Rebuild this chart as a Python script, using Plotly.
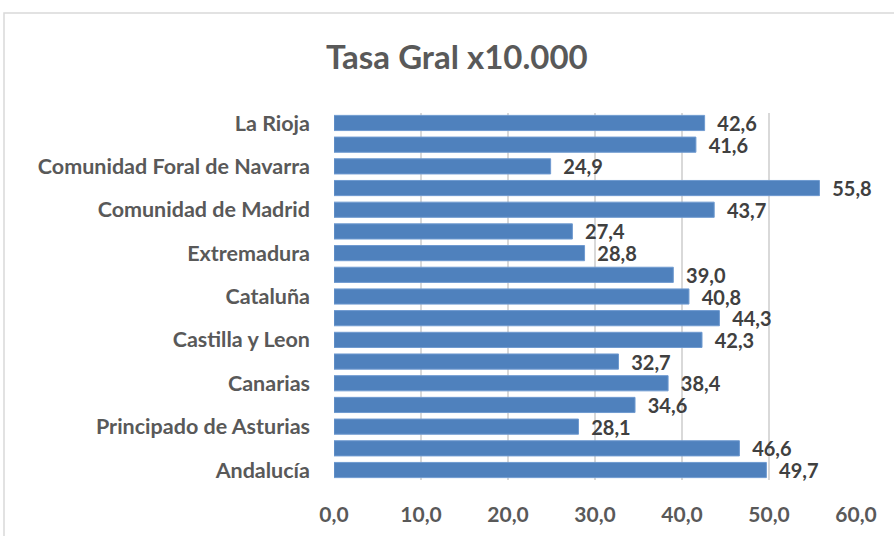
import plotly.graph_objects as go

regions = ["Andalucía", "Aragón", "Principado de Asturias", "Illes Balears", "Canarias",
           "Cantabria", "Castilla y Leon", "Castilla-La Mancha", "Cataluña",
           "Comunitat Valenciana", "Extremadura", "Galicia", "Comunidad de Madrid",
           "Región de Murcia", "Comunidad Foral de Navarra", "País Vasco", "La Rioja"]
values = [49.7, 46.6, 28.1, 34.6, 38.4, 32.7, 42.3, 44.3, 40.8, 39.0, 28.8, 27.4,
          43.7, 55.8, 24.9, 41.6, 42.6]
shown_labels = regions[::2]
x_ticks = [0, 10, 20, 30, 40, 50, 60]
x_tick_text = ["0,0", "10,0", "20,0", "30,0", "40,0", "50,0", "60,0"]

FONT = "Lato"
fig = go.Figure(go.Bar(
    y=regions, x=values, orientation="h",
    marker=dict(color="#4f81bd", line=dict(color="#6f9ad0", width=1)),
    text=["\u00a0\u00a0" + f"{v:.1f}".replace(".", ",") for v in values],
    textposition="outside", cliponaxis=False, constraintext="none",
    textfont=dict(family=FONT, size=20, color="#404040", weight="bold"),
    width=0.7,
))
fig.update_layout(
    width=894, height=536,
    margin=dict(l=334, r=38, t=113, b=56),
    paper_bgcolor="white", plot_bgcolor="white",
    title=dict(text="Tasa Gral x10.000", x=0.511, xanchor="center", y=0.893, yanchor="middle",
               font=dict(family=FONT, size=33, color="#595959", weight="bold")),
    showlegend=False,
    xaxis=dict(range=[0, 60], tickvals=x_ticks, ticktext=x_tick_text, automargin=False,
               showgrid=True, gridcolor="#d9d9d9", gridwidth=1.5, zeroline=False,
               showline=False, ticks="", ticklabelstandoff=20,
               tickfont=dict(family=FONT, size=21, color="#595959", weight="bold")),
    yaxis=dict(categoryorder="array", categoryarray=regions, automargin=False,
               tickvals=shown_labels, ticktext=shown_labels,
               showgrid=False, zeroline=False, showline=False, ticks="",
               range=[-0.46, 16.46], ticklabelstandoff=23,
               tickfont=dict(family=FONT, size=21.5, color="#595959", weight="bold")),
)
fig.add_shape(type="rect", xref="paper", yref="paper",
              x0=(4 - 334) / 522, x1=(910 - 334) / 522,
              y0=(480 - 560) / 367, y1=(480 - 13) / 367,
              line=dict(color="#d9d9d9", width=1.5), fillcolor="rgba(0,0,0,0)", layer="below")
fig.write_html("out.html", config={"displayModeBar": False},
               post_script="document.body.style.margin='0';")
